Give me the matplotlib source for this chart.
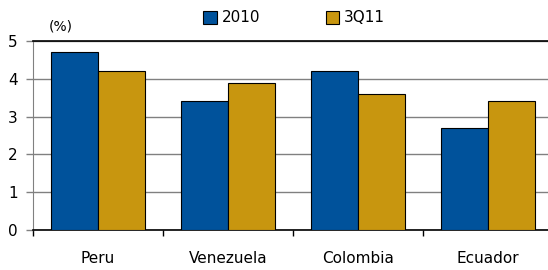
import numpy as np
import matplotlib
matplotlib.use("Agg")
import matplotlib.pyplot as plt

# data
countries = ["Peru", "Venezuela", "Colombia", "Ecuador"]
v2010 = [4.7, 3.4, 4.2, 2.7]
v3q11 = [4.2, 3.9, 3.6, 3.4]

blue = "#00529B"
gold = "#C8960F"

fig = plt.figure(figsize=(5.48, 2.70), dpi=100)
ax = fig.add_axes([33/548, 40/270, 520/548, 189/270])

x = np.arange(len(countries))
w = 0.365
ax.bar(x - w/2, v2010, w, color=blue, edgecolor="black", linewidth=0.8, label="2010", zorder=3)
ax.bar(x + w/2, v3q11, w, color=gold, edgecolor="black", linewidth=0.8, label="3Q11", zorder=3)

ax.set_xlim(-0.5, 3.5)
ax.set_ylim(0, 5)
ax.set_yticks(range(6))
ax.yaxis.grid(True, color="#808080", linewidth=1, zorder=0)

# category ticks at the boundaries, labels in the middle
ax.set_xticks(np.arange(-0.5, 3.5, 1))
ax.set_xticklabels([])
ax.set_xticks(x, minor=True)
ax.set_xticklabels(countries, minor=True, fontsize=11)
ax.tick_params(axis="x", which="minor", length=0, pad=15)
ax.tick_params(axis="x", which="major", length=4, width=1, color="black")
ax.tick_params(axis="y", length=5, width=1, color="#808080", labelsize=11, pad=6)

ax.spines["right"].set_visible(False)
ax.spines["top"].set_color("black")
ax.spines["top"].set_linewidth(1.2)
ax.spines["left"].set_color("#808080")
ax.spines["bottom"].set_color("black")
ax.spines["bottom"].set_linewidth(1.2)

fig.text(49/548, 1 - 26/270, "(%)", fontsize=10, va="center", ha="left")

leg = fig.legend(loc="center", bbox_to_anchor=(294/548, 1 - 18/270), ncol=2, frameon=False,
                 fontsize=11, handlelength=0.9, handleheight=0.9, handletextpad=0.3,
                 columnspacing=4.3)

fig.savefig("out.png", dpi=100)
